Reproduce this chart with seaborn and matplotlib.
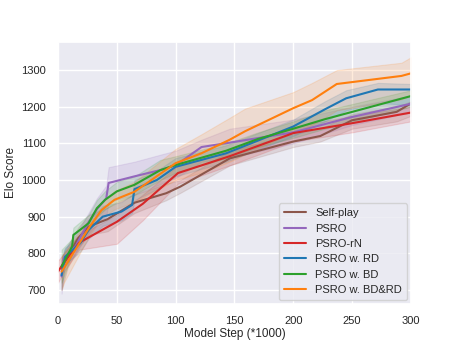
import matplotlib
matplotlib.use("Agg")
import matplotlib.pyplot as plt
import seaborn as sns
import pandas as pd

series_names = ["Self-play", "PSRO", "PSRO-rN", "PSRO w. RD", "PSRO w. BD", "PSRO w. BD&RD"]
colors = ["#8c564b", "#9467bd", "#d62728", "#1f77b4", "#2ca02c", "#ff7f0e"]

selfplay_x = [3, 8, 17, 26, 42, 65, 92, 104, 146, 200, 223, 250, 288, 300]
selfplay_y = [760, 790, 841, 873, 893, 938, 964, 982, 1059, 1105, 1120, 1163, 1186, 1209]
selfplay_lo = [700, 760, 815, 850, 860, 910, 945, 965, 1040, 1090, 1105, 1140, 1160, 1175]
selfplay_hi = [790, 820, 870, 905, 925, 960, 990, 1000, 1080, 1125, 1140, 1180, 1200, 1215]

psro_x = [3, 5, 15, 25, 33, 41, 43, 65, 88, 100, 122, 146, 200, 250, 300]
psro_y = [737, 787, 820, 880, 920, 950, 992, 1010, 1028, 1040, 1090, 1102, 1130, 1172, 1208]
psro_lo = [690, 760, 800, 850, 880, 900, 940, 960, 990, 1005, 1050, 1060, 1100, 1150, 1185]
psro_hi = [780, 810, 850, 905, 950, 985, 1035, 1050, 1070, 1080, 1110, 1140, 1165, 1200, 1230]

rn_x = [0, 5, 18, 50, 72, 102, 146, 200, 250, 300]
rn_y = [750, 775, 829, 886, 935, 1019, 1065, 1128, 1155, 1184]
rn_lo = [720, 750, 810, 826, 890, 990, 1040, 1105, 1130, 1160]
rn_hi = [780, 800, 850, 905, 960, 1040, 1085, 1145, 1175, 1200]

rd_x = [3, 6, 19, 26, 38, 54, 63, 65, 84, 100, 143, 200, 227, 245, 272, 300]
rd_y = [740, 791, 828, 864, 900, 914, 932, 975, 1000, 1036, 1073, 1146, 1193, 1223, 1247, 1247]
rd_lo = [700, 770, 805, 840, 875, 890, 910, 945, 975, 1010, 1050, 1120, 1160, 1190, 1210, 1205]
rd_hi = [780, 815, 850, 890, 930, 940, 960, 1000, 1025, 1060, 1095, 1165, 1215, 1245, 1265, 1262]

bd_x = [3, 12, 13, 26, 33, 40, 50, 65, 87, 100, 143, 170, 200, 227, 300]
bd_y = [764, 819, 850, 882, 923, 946, 969, 987, 1027, 1041, 1080, 1112, 1140, 1166, 1229]
bd_lo = [720, 800, 820, 860, 900, 920, 940, 960, 1000, 1020, 1060, 1090, 1115, 1140, 1200]
bd_hi = [810, 840, 870, 905, 945, 970, 995, 1010, 1055, 1065, 1100, 1130, 1160, 1190, 1245]

bdrd_x = [3, 5, 27, 37, 48, 65, 100, 122, 146, 159, 200, 216, 237, 292, 300]
bdrd_y = [750, 760, 873, 918, 946, 968, 1046, 1073, 1110, 1133, 1196, 1218, 1262, 1284, 1291]
bdrd_lo = [700, 720, 850, 895, 920, 940, 1000, 1020, 1050, 1070, 1130, 1150, 1190, 1220, 1230]
bdrd_hi = [790, 800, 895, 940, 970, 995, 1085, 1125, 1170, 1195, 1240, 1265, 1300, 1320, 1335]

xs = [selfplay_x, psro_x, rn_x, rd_x, bd_x, bdrd_x]
ys = [selfplay_y, psro_y, rn_y, rd_y, bd_y, bdrd_y]
los = [selfplay_lo, psro_lo, rn_lo, rd_lo, bd_lo, bdrd_lo]
his = [selfplay_hi, psro_hi, rn_hi, rd_hi, bd_hi, bdrd_hi]

sns.set_theme(style="darkgrid")
plt.rcParams['font.family'] = ['Liberation Sans', 'DejaVu Sans']

rows = []
for name, x, y in zip(series_names, xs, ys):
    for a, b in zip(x, y):
        rows.append({"step": a, "elo": b, "method": name})
df = pd.DataFrame(rows)

fig = plt.figure(figsize=(4.57, 3.43), dpi=100)
ax = fig.add_axes([0.127, 0.114, 0.772, 0.764])

for name, x, lo, hi, c in zip(series_names, xs, los, his, colors):
    ax.fill_between(x, lo, hi, color=c, alpha=0.15, linewidth=0.8)

sns.lineplot(data=df, x="step", y="elo", hue="method", hue_order=series_names,
             palette=colors, errorbar=None, estimator=None, sort=True,
             linewidth=1.5, ax=ax)

ax.set_xlim(0, 300)
ax.set_ylim(662, 1377)
ax.set_xticks([0, 50, 100, 150, 200, 250, 300])
ax.set_yticks([700, 800, 900, 1000, 1100, 1200, 1300])
ax.tick_params(labelsize=8, pad=3)
ax.set_xlabel("Model Step (*1000)", fontsize=8.5, labelpad=1)
ax.set_ylabel("Elo Score", fontsize=8.5, labelpad=3)

leg = ax.legend(loc="lower right", fontsize=8, frameon=True, handlelength=2.0,
                borderpad=0.45, labelspacing=0.48, borderaxespad=0.35)

fig.savefig("out.png", dpi=100)
